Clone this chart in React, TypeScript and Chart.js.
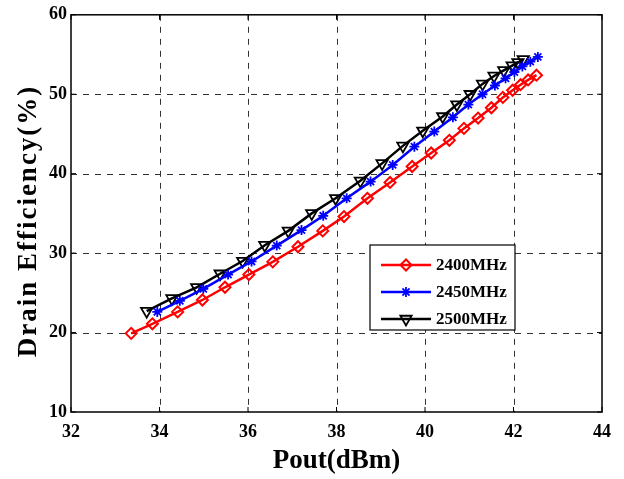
import React, { useEffect, useRef } from "react";
import { Chart, registerables } from "chart.js";
import { drawPoint } from "chart.js/helpers";

Chart.register(...registerables);

const labels2400 = "2400MHz";
const labels2450 = "2450MHz";
const labels2500 = "2500MHz";
const yTitle = "Drain Efficiency(%)";
const xTitle = "Pout(dBm)";

const x2400 = [33.36, 33.84, 34.41, 34.97, 35.48, 36.02, 36.56, 37.13, 37.69, 38.17, 38.7, 39.21, 39.71, 40.14, 40.55, 40.88, 41.2, 41.5, 41.76, 41.98, 42.16, 42.33, 42.52];
const y2400 = [19.9, 21.1, 22.6, 24.1, 25.7, 27.3, 28.9, 30.8, 32.8, 34.6, 36.9, 38.9, 40.9, 42.6, 44.2, 45.7, 47.0, 48.3, 49.6, 50.5, 51.2, 51.8, 52.4];

const x2450 = [33.95, 34.46, 34.99, 35.55, 36.08, 36.65, 37.21, 37.7, 38.23, 38.77, 39.27, 39.76, 40.21, 40.63, 40.98, 41.3, 41.58, 41.82, 42.02, 42.2, 42.38, 42.55];
const y2450 = [22.6, 24.0, 25.5, 27.3, 28.95, 30.95, 32.9, 34.7, 36.9, 39.0, 41.1, 43.4, 45.3, 47.1, 48.7, 50.0, 51.1, 52.0, 52.8, 53.5, 54.1, 54.7];

const x2500 = [33.71, 34.28, 34.84, 35.37, 35.88, 36.38, 36.91, 37.44, 37.98, 38.54, 39.03, 39.5, 39.95, 40.4, 40.72, 41.02, 41.3, 41.56, 41.78, 41.97, 42.1, 42.22];
const y2500 = [22.7, 24.3, 25.7, 27.4, 29.0, 31.0, 32.8, 35.0, 36.9, 39.1, 41.3, 43.5, 45.4, 47.2, 48.7, 50.0, 51.3, 52.3, 53.0, 53.6, 54.0, 54.4];

const xTicks = [32, 34, 36, 38, 40, 42, 44];
const yTicks = [10, 20, 30, 40, 50, 60];

const FONT = "'Liberation Serif', 'Times New Roman', serif";

const pts = (xs: number[], ys: number[]) => xs.map((x, i) => ({ x, y: ys[i] }));

const gridPlugin = {
  id: "dashedGrid",
  beforeDatasetsDraw(chart: any) {
    const { ctx, chartArea: a } = chart;
    const xs = chart.scales.x;
    const ys = chart.scales.y;
    ctx.save();
    ctx.strokeStyle = "#333";
    ctx.lineWidth = 1;
    ctx.setLineDash([6, 6]);
    ctx.beginPath();
    xTicks.slice(1, -1).forEach((t) => {
      const px = Math.round(xs.getPixelForValue(t)) + 0.5;
      ctx.moveTo(px, a.top);
      ctx.lineTo(px, a.bottom);
    });
    yTicks.slice(1, -1).forEach((t) => {
      const py = Math.round(ys.getPixelForValue(t)) + 0.5;
      ctx.moveTo(a.left, py);
      ctx.lineTo(a.right, py);
    });
    ctx.stroke();
    ctx.restore();
  },
};

const frameAndLegend = {
  id: "frameAndLegend",
  afterDraw(chart: any) {
    const { ctx, chartArea: a } = chart;
    ctx.save();
    ctx.strokeStyle = "#000";
    ctx.lineWidth = 1.5;
    ctx.setLineDash([]);
    ctx.strokeRect(a.left, a.top, a.right - a.left, a.bottom - a.top);
    const xs = chart.scales.x;
    const ys = chart.scales.y;
    ctx.lineWidth = 1;
    ctx.beginPath();
    xTicks.forEach((t) => {
      const px = xs.getPixelForValue(t);
      ctx.moveTo(px, a.bottom);
      ctx.lineTo(px, a.bottom - 5);
      ctx.moveTo(px, a.top);
      ctx.lineTo(px, a.top + 5);
    });
    yTicks.forEach((t) => {
      const py = ys.getPixelForValue(t);
      ctx.moveTo(a.left, py);
      ctx.lineTo(a.left + 5, py);
      ctx.moveTo(a.right, py);
      ctx.lineTo(a.right - 5, py);
    });
    ctx.stroke();

    // y axis title
    ctx.save();
    ctx.translate(29, 221);
    ctx.rotate(-Math.PI / 2);
    ctx.fillStyle = "#000";
    ctx.font = `bold 27px ${FONT}`;
    (ctx as any).letterSpacing = "2px";
    ctx.textAlign = "center";
    ctx.textBaseline = "middle";
    ctx.fillText(yTitle, 0, 0);
    ctx.restore();

    const lx = 370, ly = 245, lw = 145, lh = 85;
    ctx.fillStyle = "#fff";
    ctx.fillRect(lx, ly, lw, lh);
    ctx.lineWidth = 1.2;
    ctx.strokeStyle = "#000";
    ctx.strokeRect(lx, ly, lw, lh);
    const rows = [265, 292, 319];
    chart.data.datasets.forEach((ds: any, i: number) => {
      const y = rows[i];
      ctx.strokeStyle = ds.borderColor;
      ctx.lineWidth = ds.borderWidth;
      ctx.beginPath();
      ctx.moveTo(381, y);
      ctx.lineTo(431, y);
      ctx.stroke();
      ctx.strokeStyle = ds.pointBorderColor;
      ctx.fillStyle = ds.pointBackgroundColor;
      ctx.lineWidth = ds.pointBorderWidth;
      drawPoint(
        ctx,
        {
          pointStyle: ds.pointStyle,
          rotation: ds.pointRotation || 0,
          radius: ds.pointRadius,
          borderWidth: ds.pointBorderWidth,
        } as any,
        406,
        y
      );
      ctx.fillStyle = "#000";
      ctx.font = `bold 17px ${FONT}`;
      ctx.textAlign = "left";
      ctx.textBaseline = "middle";
      ctx.fillText(ds.label, 436, y + 1);
    });
    ctx.restore();
  },
};

export default function App() {
  const ref = useRef<HTMLCanvasElement | null>(null);
  useEffect(() => {
    if (!ref.current) return;
    const chart = new Chart(ref.current, {
      type: "line",
      data: {
        datasets: [
          {
            label: labels2400,
            data: pts(x2400, y2400),
            borderColor: "#ff0000",
            backgroundColor: "rgba(0,0,0,0)",
            borderWidth: 2.5,
            pointStyle: "rectRot",
            pointRadius: 5.5,
            pointBorderWidth: 2,
            pointBorderColor: "#ff0000",
            pointBackgroundColor: "rgba(0,0,0,0)",
            tension: 0,
          },
          {
            label: labels2450,
            data: pts(x2450, y2450),
            borderColor: "#0000ff",
            backgroundColor: "#0000ff",
            borderWidth: 2.5,
            pointStyle: "star",
            pointRadius: 5,
            pointBorderWidth: 1.8,
            pointBorderColor: "#0000ff",
            pointBackgroundColor: "#0000ff",
            tension: 0,
          },
          {
            label: labels2500,
            data: pts(x2500, y2500),
            borderColor: "#000000",
            backgroundColor: "rgba(0,0,0,0)",
            borderWidth: 2.5,
            pointStyle: "triangle",
            pointRotation: 180,
            pointRadius: 6.5,
            pointBorderWidth: 1.8,
            pointBorderColor: "#000000",
            pointBackgroundColor: "rgba(0,0,0,0)",
            tension: 0,
          },
        ],
      },
      options: {
        animation: false,
        responsive: false,
        maintainAspectRatio: false,
        layout: { padding: { top: 11, right: 22, left: 0, bottom: 0 } },
        plugins: { legend: { display: false }, tooltip: { enabled: false } },
        scales: {
          x: {
            type: "linear",
            min: 32,
            max: 44,
            afterBuildTicks: (s: any) => {
              s.ticks = xTicks.map((v) => ({ value: v }));
            },
            afterFit: (s: any) => {
              s.height = 67;
            },
            grid: { display: false, drawTicks: false },
            border: { display: false },
            ticks: {
              color: "#000",
              font: { family: FONT, size: 18, weight: "bold" },
              padding: 10,
              maxRotation: 0,
            },
            title: {
              display: true,
              text: xTitle,
              color: "#000",
              font: { family: FONT, size: 27, weight: "bold" },
              padding: { top: 0, bottom: 2 },
            },
          },
          y: {
            type: "linear",
            min: 10,
            max: 60,
            afterBuildTicks: (s: any) => {
              s.ticks = yTicks.map((v) => ({ value: v }));
            },
            afterFit: (s: any) => {
              s.width = 71;
            },
            grid: { display: false, drawTicks: false },
            border: { display: false },
            ticks: {
              color: "#000",
              font: { family: FONT, size: 18, weight: "bold" },
              padding: 4,
            },
            title: { display: false },
          },
        },
      } as any,
      plugins: [gridPlugin, frameAndLegend],
    });
    return () => chart.destroy();
  }, []);
  return (
    <div style={{ position: "fixed", left: 0, top: 0, width: 624, height: 479, background: "#fff" }}>
      <canvas ref={ref} width={624} height={479} style={{ width: 624, height: 479 }} />
    </div>
  );
}
